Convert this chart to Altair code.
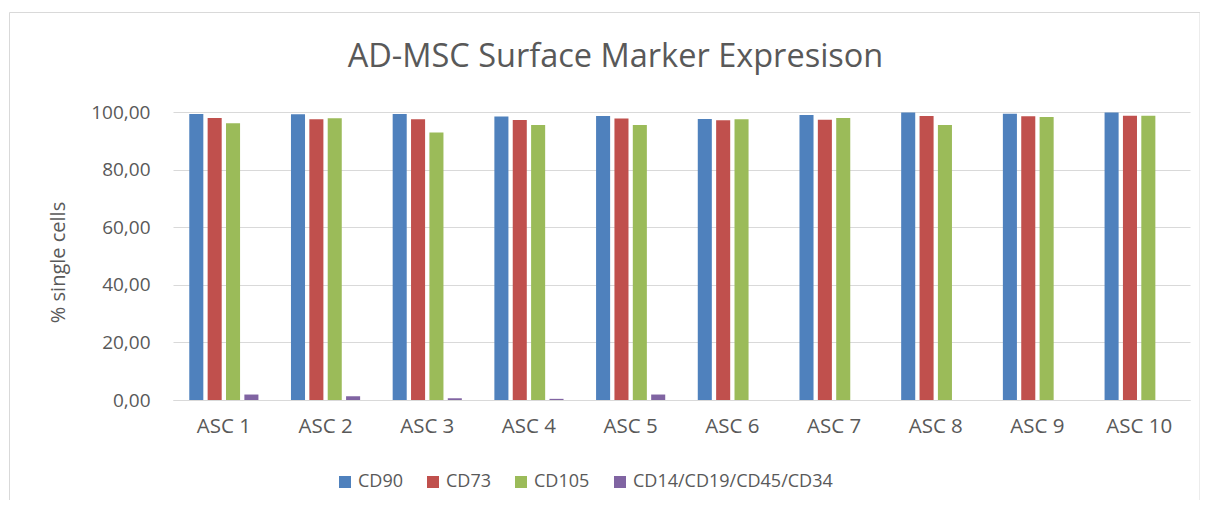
import altair as alt
import pandas as pd

samples = ["ASC 1", "ASC 2", "ASC 3", "ASC 4", "ASC 5", "ASC 6", "ASC 7", "ASC 8", "ASC 9", "ASC 10"]
markers = ["CD90", "CD73", "CD105", "CD14/CD19/CD45/CD34"]
cd90 = [99.3, 99.2, 99.3, 98.4, 98.6, 97.6, 99.0, 99.8, 99.4, 99.8]
cd73 = [97.9, 97.5, 97.5, 97.2, 97.7, 97.1, 97.3, 98.6, 98.5, 98.7]
cd105 = [96.1, 97.8, 92.9, 95.5, 95.5, 97.5, 97.9, 95.5, 98.3, 98.7]
negative = [1.9, 1.3, 0.6, 0.4, 1.9, 0.0, 0.0, 0.0, 0.0, 0.0]
colors = ["#4F81BD", "#C0504D", "#9BBB59", "#8064A2"]
y_ticks = [0, 20, 40, 60, 80, 100]

rows = []
for m, vals in zip(markers, [cd90, cd73, cd105, negative]):
    for s, v in zip(samples, vals):
        rows.append({"sample": s, "marker": m, "value": v})
df = pd.DataFrame(rows)

font = "Open Sans"
text_color = "#595959"
grid_color = "#D9D9D9"

frame = alt.Chart(pd.DataFrame({"f": [0]})).mark_rect(
    fill="transparent", stroke=grid_color, strokeWidth=1
).encode(
    x=alt.value(-163.5), x2=alt.value(1027), y=alt.value(-99.5), y2=alt.value(420)
)

bars = alt.Chart(df).mark_bar().encode(
    x=alt.X(
        "sample:N",
        sort=samples,
        scale=alt.Scale(paddingInner=0.32, paddingOuter=0.16),
        axis=alt.Axis(
            title=None, labelAngle=0, labelFontSize=20.5, labelColor=text_color,
            labelFont=font, ticks=False, domainColor=grid_color, domainWidth=1,
            labelPadding=16,
        ),
    ),
    xOffset=alt.XOffset(
        "marker:N", sort=markers,
        scale=alt.Scale(domain=markers, paddingInner=0.235, paddingOuter=0),
    ),
    y=alt.Y(
        "value:Q",
        scale=alt.Scale(domain=[0, 100]),
        axis=alt.Axis(
            values=y_ticks,
            labelExpr="replace(format(datum.value, '.2f'), '.', ',')",
            title="% single cells", titleFont=font, titleFontSize=20,
            titleFontWeight="normal", titleColor=text_color,
            titleX=-115, titleY=150, titleBaseline="middle",
            labelFont=font, labelFontSize=19, labelColor=text_color,
            labelPadding=23, ticks=False, domain=False,
            gridColor=grid_color, gridWidth=1,
        ),
    ),
    color=alt.Color(
        "marker:N",
        sort=markers,
        scale=alt.Scale(domain=markers, range=colors),
        legend=alt.Legend(
            title=None, orient="none", legendX=163, legendY=361,
            direction="horizontal", symbolType="square", symbolSize=144,
            symbolStrokeWidth=0, labelFont=font, labelFontSize=18,
            labelColor=text_color, columnPadding=21, labelOffset=4,
            labelLimit=0,
        ),
    ),
)

chart = alt.layer(frame, bars).properties(
    width=1017,
    height=288,
    title=alt.TitleParams(
        "AD-MSC Surface Marker Expresison", font=font, fontSize=32.5,
        fontWeight="normal", color=text_color, anchor="middle", frame="group",
        dx=-66, offset=-87, baseline="alphabetic",
    ),
    autosize="none",
    padding={"left": 165, "top": 104, "right": 10, "bottom": 100},
).configure_view(stroke=None)

chart.save("out.html", embed_options={"renderer": "svg", "actions": False})
